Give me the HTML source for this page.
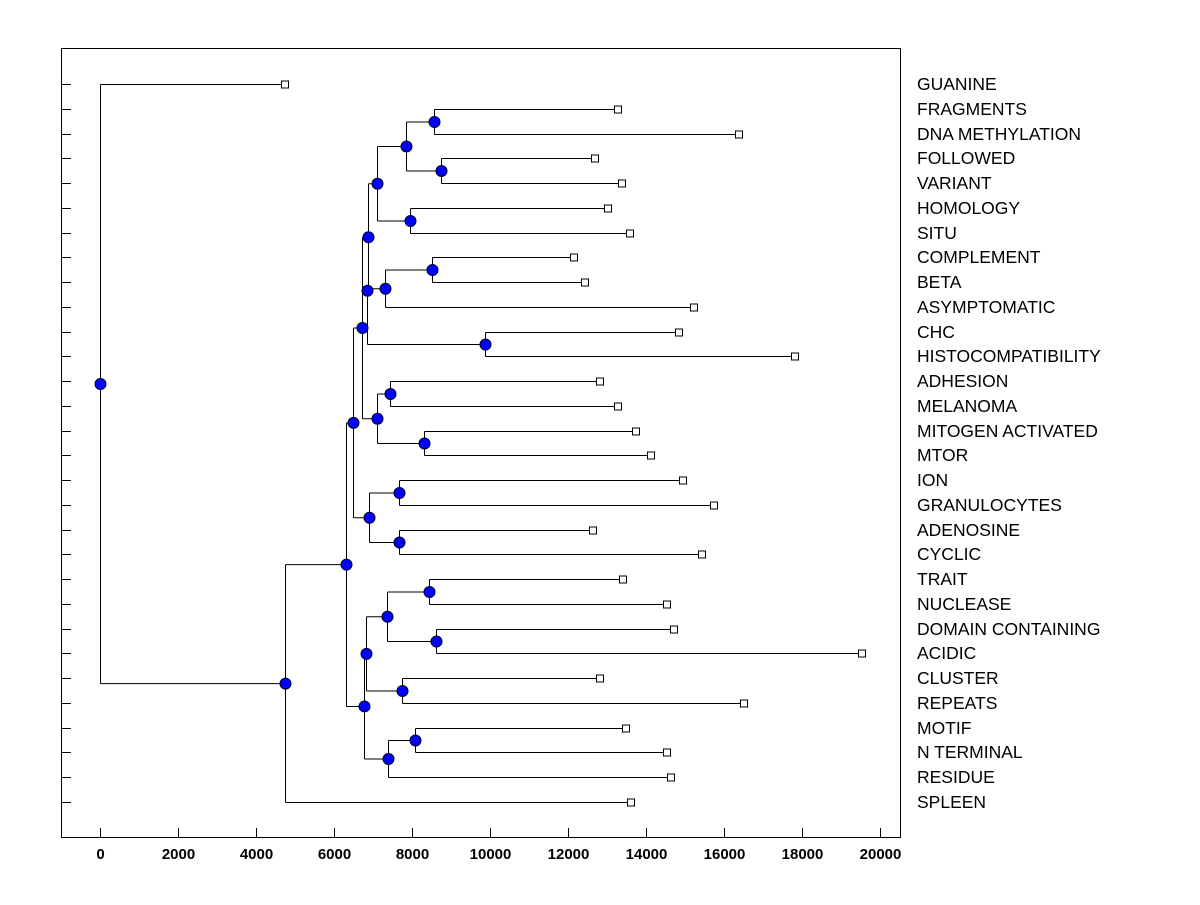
<!DOCTYPE html>
<html><head><meta charset="utf-8"><style>
body{margin:0;background:#fff}
svg text{font-family:"Liberation Sans",Arial,sans-serif}
</style></head><body>
<svg id="c" width="1200" height="900" xmlns="http://www.w3.org/2000/svg">
<rect x="61.5" y="48.5" width="839" height="789" fill="#fff" stroke="#000"/>
<g id="lines"></g><g id="marks"></g><g id="ticks"></g>
</svg>
<script>
const labels=["GUANINE","FRAGMENTS","DNA METHYLATION","FOLLOWED","VARIANT","HOMOLOGY","SITU","COMPLEMENT","BETA","ASYMPTOMATIC","CHC","HISTOCOMPATIBILITY","ADHESION","MELANOMA","MITOGEN ACTIVATED","MTOR","ION","GRANULOCYTES","ADENOSINE","CYCLIC","TRAIT","NUCLEASE","DOMAIN CONTAINING","ACIDIC","CLUSTER","REPEATS","MOTIF","N TERMINAL","RESIDUE","SPLEEN"];
const leafValues=[4744,13282,16385,12692,13385,13026,13590,12154,12436,15231,14846,17821,12821,13282,13744,14128,14949,15744,12641,15436,13410,14538,14718,19538,12821,16513,13487,14538,14641,13615];
// merges: [childA, childB, height]; leaves are 0..29, merges are "m<i>"
const merges=[
[1,2,8564],[3,4,8744],["m0","m1",7846],[5,6,7949],["m2","m3",7103],
[7,8,8513],["m5",9,7308],[10,11,9872],["m6","m7",6846],["m4","m8",6872],
[12,13,7436],[14,15,8308],["m10","m11",7103],["m9","m12",6718],
[16,17,7667],[18,19,7667],["m14","m15",6897],["m13","m16",6487],
[20,21,8436],[22,23,8615],["m18","m19",7359],[24,25,7744],["m20","m21",6821],
[26,27,8077],["m23",28,7385],["m22","m24",6769],["m17","m25",6308],
["m26",29,4744],[0,"m27",0]];
const xTicks=[0,2000,4000,6000,8000,10000,12000,14000,16000,18000,20000];
const X=v=>100+v*0.039, Y=i=>84+i*(802-84)/29;
const NS="http://www.w3.org/2000/svg";
const L=document.getElementById('lines'),M=document.getElementById('marks'),T=document.getElementById('ticks');
function mk(tag,a,p){const e=document.createElementNS(NS,tag);for(const k in a)e.setAttribute(k,a[k]);p.appendChild(e);return e;}
const pos={};
labels.forEach((lb,i)=>{
  const y=Math.round(Y(i)); pos[i]={x:Math.round(X(leafValues[i])),y:y};
  const t=mk('line',{x1:61,x2:71,y1:y+.5,y2:y+.5,stroke:'#000'},T);
  
  
  const tx=mk('text',{x:917,y:y+6,'font-size':17.5},T); tx.textContent=lb;
  
  
});
merges.forEach((m,i)=>{
  const a=pos[m[0]], b=pos[m[1]];
  const x=Math.round(X(m[2]))+.5;
  let y=(a.y+b.y)/2;
  if(i===8) y=a.y+2;
  pos['m'+i]={x:x,y:y};
  const seg=(x1,y1,x2,y2)=>{const l=mk('line',{x1:x1,y1:y1+.5,x2:x2,y2:y2+.5,stroke:'#000','stroke-width':1},L);
    
    };
  seg(x,a.y,a.x,a.y); seg(x,b.y,b.x,b.y);
  const v=mk('line',{x1:x,y1:Math.min(a.y,b.y,y)+.5,x2:x,y2:Math.max(a.y,b.y,y)+.5,stroke:'#000'},L);
  
  
});
labels.forEach((lb,i)=>{
  const p=pos[i];
  const r=mk('rect',{x:p.x-3.5,y:p.y-3,width:7,height:7,fill:'#fff',stroke:'#000'},M);
  
  
});
merges.forEach((m,i)=>{
  const p=pos['m'+i];
  const c=mk('circle',{cx:p.x,cy:p.y+.5,r:5.5,fill:'#0000ff',stroke:'#000022','stroke-width':1},M);
  
  
});
xTicks.forEach(v=>{
  const x=Math.round(X(v))+.5;
  const t=mk('line',{x1:x,x2:x,y1:828,y2:837,stroke:'#000'},T);
  
  
  const tx=mk('text',{x:x,y:859,'font-size':15,'text-anchor':'middle','font-weight':'bold'},T); tx.textContent=v;
  
  
});
</script>
</body></html>
